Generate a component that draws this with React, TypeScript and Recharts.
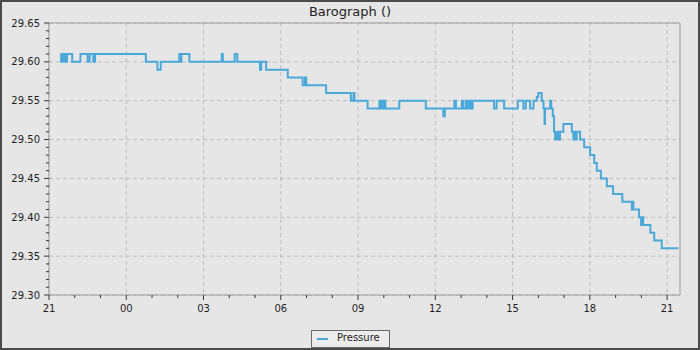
import { CartesianGrid, Line, LineChart, ReferenceLine, XAxis, YAxis } from "recharts"

// hours since 21:00 on the first day
const hours = [
  0.44, 0.47, 0.5, 0.53, 0.57, 0.6, 0.63, 0.66, 0.7, 0.9, 1.22, 1.5, 1.58, 1.72, 1.79,
  3.76, 4.21, 4.34, 5.06, 5.11, 5.14, 5.45, 6.71, 6.75, 7.21, 7.31, 8.19, 8.24, 8.43,
  9.27, 9.85, 9.94, 9.99, 10.76, 11.72, 11.82, 11.86, 12.37, 12.83, 12.87, 12.91, 12.95,
  12.99, 13.06, 13.6, 14.63, 15.31, 15.37, 15.74, 15.8, 16.03, 16.09, 16.19, 16.23, 16.27,
  16.31, 16.35, 16.39, 16.45, 17.28, 17.38, 17.67, 18.2, 18.42, 18.51, 18.68, 18.81, 18.94,
  19.0, 19.13, 19.2, 19.24, 19.26, 19.46, 19.5, 19.56, 19.61, 19.65, 19.69, 19.73, 19.77,
  19.81, 19.84, 19.97, 20.3, 20.36, 20.41, 20.45, 20.49, 20.62, 20.78, 21.01, 21.17, 21.27,
  21.43, 21.66, 21.9, 22.26, 22.63, 22.66, 22.69, 22.91, 22.99, 23.03, 23.07, 23.35, 23.5,
  23.79, 24.44,
]

const pressure = [
  29.61, 29.6, 29.61, 29.6, 29.61, 29.6, 29.61, 29.6, 29.61, 29.6, 29.61, 29.6, 29.61, 29.6, 29.61,
  29.6, 29.59, 29.6, 29.61, 29.6, 29.61, 29.6, 29.61, 29.6, 29.61, 29.6, 29.59, 29.6, 29.59,
  29.58, 29.57, 29.58, 29.57, 29.56, 29.55, 29.56, 29.55, 29.54, 29.55, 29.54, 29.55, 29.54,
  29.55, 29.54, 29.55, 29.54, 29.53, 29.54, 29.55, 29.54, 29.55, 29.54, 29.55, 29.54, 29.55,
  29.54, 29.55, 29.54, 29.55, 29.54, 29.55, 29.54, 29.55, 29.54, 29.55, 29.54, 29.55, 29.555,
  29.56, 29.55, 29.54, 29.52, 29.54, 29.55, 29.54, 29.53, 29.51, 29.5, 29.51, 29.5, 29.51,
  29.5, 29.51, 29.52, 29.51, 29.5, 29.51, 29.5, 29.51, 29.5, 29.49, 29.48, 29.47, 29.46,
  29.45, 29.44, 29.43, 29.42, 29.41, 29.42, 29.41, 29.4, 29.39, 29.4, 29.39, 29.38, 29.37,
  29.36, 29.36,
]

const xMajor = [0, 3, 6, 9, 12, 15, 18, 21, 24]
const xLabels = ["21", "00", "03", "06", "09", "12", "15", "18", "21"]
const xMinor = Array.from({ length: 25 }, (_, i) => i)

const yMajor = [29.3, 29.35, 29.4, 29.45, 29.5, 29.55, 29.6, 29.65]
const yMinor = Array.from({ length: 36 }, (_, i) => Math.round((29.3 + i * 0.01) * 100) / 100)

const data = hours.map((t, i) => ({ t, pressure: pressure[i] }))

const LINE_COLOR = "#4aa9da"
const FRAME = "#9a9a9a"
const TEXT = "#1e1e1e"
const FONT = "'DejaVu Sans', sans-serif"

const XTick = ({ x, y, payload }: any) => {
  const idx = xMajor.indexOf(payload.value)
  const major = idx >= 0
  return (
    <g>
      <line x1={x} x2={x} y1={y} y2={y + (major ? 5 : 3)} stroke="#333" />
      {major && (
        <text x={x} y={y + 13} dy="0.355em" textAnchor="middle" fontSize={10} fill={TEXT} fontFamily={FONT}>
          {xLabels[idx]}
        </text>
      )}
    </g>
  )
}

const YTick = ({ x, y, payload }: any) => {
  const major = yMajor.some((v) => Math.abs(v - payload.value) < 1e-6)
  return (
    <g>
      <line x1={x - (major ? 5 : 3)} x2={x} y1={y} y2={y} stroke="#333" />
      {major && (
        <text x={x - 9} y={y} dy="0.355em" textAnchor="end" fontSize={10} fill={TEXT} fontFamily={FONT}>
          {payload.value.toFixed(2)}
        </text>
      )}
    </g>
  )
}

export default function App() {
  return (
    <div
      style={{
        position: "fixed",
        left: 0,
        top: 0,
        width: 700,
        height: 350,
        boxSizing: "border-box",
        border: "2px solid #4a4a4a",
        background: "#e6e6e6",
        fontFamily: FONT,
      }}
    >
      <div
        style={{
          position: "absolute",
          left: -2,
          top: 2,
          width: 700,
          textAlign: "center",
          fontSize: 13,
          color: TEXT,
        }}
      >
        Barograph ()
      </div>
      <div style={{ position: "absolute", left: -2, top: -2 }}>
        <LineChart width={700} height={350} data={data} margin={{ top: 23, right: 20, bottom: 35, left: 0 }}>
          <CartesianGrid
            stroke="#bdbdbd"
            strokeDasharray="4 3"
            verticalValues={xMajor}
            horizontalValues={yMajor}
          />
          <XAxis
            dataKey="t"
            type="number"
            domain={[0, 24.5]}
            ticks={xMinor}
            interval={0}
            tick={<XTick />}
            tickLine={false}
            tickSize={0}
            tickMargin={0}
            height={20}
            axisLine={{ stroke: FRAME }}
          />
          <YAxis
            type="number"
            domain={[29.3, 29.65]}
            ticks={yMinor}
            interval={0}
            tick={<YTick />}
            tickLine={false}
            tickSize={0}
            tickMargin={0}
            width={49}
            axisLine={{ stroke: FRAME }}
            allowDataOverflow
          />
          <ReferenceLine y={29.65} stroke={FRAME} />
          <ReferenceLine x={24.5} stroke={FRAME} />
          <Line
            type="stepAfter"
            dataKey="pressure"
            stroke={LINE_COLOR}
            strokeWidth={2}
            dot={false}
            activeDot={false}
            isAnimationActive={false}
          />
        </LineChart>
      </div>
      <div
        style={{
          position: "absolute",
          left: 309,
          top: 328,
          width: 77,
          height: 16,
          border: "1px solid #6a6a6a",
          background: "#ececec",
          fontSize: 10,
          color: TEXT,
        }}
      >
        <div style={{ position: "absolute", left: 5, top: 7, width: 11, height: 2, background: LINE_COLOR }} />
        <div style={{ position: "absolute", left: 25, top: 1 }}>Pressure</div>
      </div>
    </div>
  )
}
